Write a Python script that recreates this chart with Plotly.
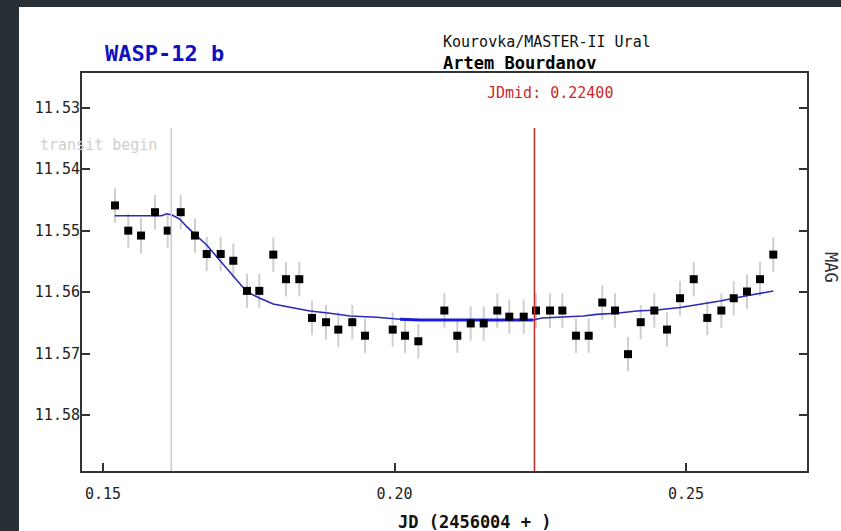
import plotly.graph_objects as go

# Observed photometry (JD offset from 2456004, magnitude, 1-sigma error)
jd = [0.15206, 0.15434, 0.15652, 0.15892, 0.16110, 0.16333, 0.16578, 0.16779,
      0.17019, 0.17235, 0.17470, 0.17681, 0.17921, 0.18139, 0.18367, 0.18585,
      0.18825, 0.19036, 0.19276, 0.19494, 0.19969, 0.20180, 0.20409, 0.20855,
      0.21077, 0.21307, 0.21530, 0.21763, 0.21969, 0.22216, 0.22427, 0.22667,
      0.22879, 0.23113, 0.23331, 0.23564, 0.23782, 0.24005, 0.24223, 0.24456,
      0.24674, 0.24897, 0.25132, 0.25365, 0.25606, 0.25818, 0.26046, 0.26269,
      0.26497]
mag = [11.5459, 11.5500, 11.5508, 11.5470, 11.5500, 11.5470, 11.5508, 11.5538,
       11.5538, 11.5549, 11.5598, 11.5598, 11.5539, 11.5579, 11.5579, 11.5642,
       11.5649, 11.5661, 11.5649, 11.5671, 11.5661, 11.5671, 11.5680, 11.5630,
       11.5671, 11.5651, 11.5651, 11.5630, 11.5640, 11.5640, 11.5630, 11.5630,
       11.5630, 11.5671, 11.5671, 11.5617, 11.5630, 11.5701, 11.5649, 11.5630,
       11.5661, 11.5610, 11.5579, 11.5642, 11.5630, 11.5610, 11.5599, 11.5579,
       11.5539]
mag_err = [0.0028, 0.0028, 0.0029, 0.0028, 0.0028, 0.0028, 0.0028, 0.0028,
           0.0028, 0.0028, 0.0028, 0.0028, 0.0028, 0.0028, 0.0028, 0.0028,
           0.0028, 0.0028, 0.0028, 0.0028, 0.0028, 0.0028, 0.0028, 0.0028,
           0.0028, 0.0028, 0.0028, 0.0028, 0.0028, 0.0028, 0.0028, 0.0028,
           0.0028, 0.0028, 0.0028, 0.0028, 0.0028, 0.0028, 0.0028, 0.0028,
           0.0028, 0.0028, 0.0028, 0.0028, 0.0028, 0.0028, 0.0028, 0.0028,
           0.0028]

# Fitted transit model
model_jd = [0.15201, 0.16007, 0.16093, 0.16184, 0.16321, 0.16436, 0.16578,
            0.16779, 0.16950, 0.17122, 0.17293, 0.17465, 0.17693, 0.17921,
            0.18208, 0.18551, 0.18894, 0.19237, 0.19695, 0.20094, 0.20437,
            0.22376, 0.22530, 0.23238, 0.23468, 0.23811, 0.24154, 0.24497,
            0.24897, 0.25583, 0.26041, 0.26497]
model_mag = [11.54757, 11.54757, 11.54725, 11.54746, 11.54816, 11.54936,
             11.55060, 11.55234, 11.55424, 11.55613, 11.55803, 11.55994,
             11.56101, 11.56194, 11.56248, 11.56308, 11.56345, 11.56389,
             11.56410, 11.56443, 11.56454, 11.56454, 11.56422, 11.56389,
             11.56362, 11.56345, 11.56308, 11.56292, 11.56251, 11.56145,
             11.56059, 11.55982]

# Mid-transit and transit start times
jd_mid = 0.224
jd_begin = 0.1617

x_ticks = [0.15, 0.20, 0.25]
x_tick_text = ["0.15", "0.20", "0.25"]
y_ticks = [11.53, 11.54, 11.55, 11.56, 11.57, 11.58]
y_tick_text = ["11.53", "11.54", "11.55", "11.56", "11.57", "11.58"]

W, H = 841, 531
L, R, T, B = 82, 807, 73, 471
MONO = "DejaVu Sans Mono"


def px(xp):
    return (xp - L) / (R - L)


def py(yp):
    return (B - yp) / (B - T)


fig = go.Figure()

# error bars underneath everything else
fig.add_trace(go.Scatter(
    x=jd, y=mag, mode="markers",
    marker=dict(size=1, color="rgba(0,0,0,0)"),
    error_y=dict(type="data", array=mag_err, color="#cfcfcf",
                 thickness=2, width=0),
    hoverinfo="skip", showlegend=False))

# model curve, with the flat bottom drawn heavier
fig.add_trace(go.Scatter(
    x=model_jd, y=model_mag, mode="lines",
    line=dict(color="#2a2ab8", width=1.6), showlegend=False))
flat = [i for i, v in enumerate(model_jd) if 0.2009 <= v <= 0.2238]
fig.add_trace(go.Scatter(
    x=[model_jd[i] for i in flat], y=[model_mag[i] for i in flat],
    mode="lines", line=dict(color="#1c1cd6", width=3), showlegend=False))

# data points
fig.add_trace(go.Scatter(
    x=jd, y=mag, mode="markers",
    marker=dict(symbol="square", size=8, color="#000000"),
    showlegend=False))

shapes = [
    # white page panel
    dict(type="rect", xref="paper", yref="paper", layer="below",
         x0=px(19), x1=px(W + 5), y0=py(H + 5), y1=py(7),
         fillcolor="#ffffff", line=dict(width=0)),
    # transit begin marker
    dict(type="line", xref="x", yref="paper", x0=jd_begin, x1=jd_begin,
         y0=0, y1=py(128), line=dict(color="#cccccc", width=1.5)),
    # mid-transit marker
    dict(type="line", xref="x", yref="paper", x0=jd_mid, x1=jd_mid,
         y0=0, y1=py(128), line=dict(color="#cc2a2a", width=1.5)),
]

annotations = [
    dict(text="<b>WASP-12 b</b>", x=px(103), y=py(53), xanchor="left",
         yanchor="middle", font=dict(family=MONO, size=22, color="#1010c0")),
    dict(text="Kourovka/MASTER-II Ural", x=px(441), y=py(42), xanchor="left",
         yanchor="middle", font=dict(family=MONO, size=15, color="#111111")),
    dict(text="<b>Artem Bourdanov</b>", x=px(441), y=py(63), xanchor="left",
         yanchor="middle", font=dict(family=MONO, size=17, color="#000000")),
    dict(text="JDmid: %.5f" % jd_mid, x=px(485), y=py(93), xanchor="left",
         yanchor="middle", font=dict(family=MONO, size=15, color="#cc2a2a")),
    dict(text="transit begin", x=px(159), y=py(145), xanchor="right",
         yanchor="middle", font=dict(family=MONO, size=15, color="#cfcfcf")),
    dict(text="MAG", x=px(831), y=py(267), xanchor="center",
         yanchor="middle", textangle=90,
         font=dict(family=MONO, size=17, color="#2e2e3a")),
    dict(text="<b>JD (2456004 + )</b>", x=px(475), y=py(522),
         xanchor="center", yanchor="middle",
         font=dict(family=MONO, size=17, color="#111111")),
]
for a in annotations:
    a.update(xref="paper", yref="paper", showarrow=False)

fig.update_layout(
    width=W, height=H,
    margin=dict(l=L, r=W - R, t=T, b=H - B, pad=0),
    paper_bgcolor="#283036",
    plot_bgcolor="#ffffff",
    shapes=shapes,
    annotations=annotations,
    showlegend=False,
    xaxis=dict(range=[0.1464, 0.27075], tickvals=x_ticks,
               ticktext=x_tick_text, ticks="inside", ticklen=8,
               tickwidth=2, tickcolor="#333333", showline=True,
               linecolor="#333333", linewidth=2, mirror=True,
               showgrid=False, zeroline=False, ticklabelstandoff=8,
               tickfont=dict(family=MONO, size=15, color="#222222")),
    yaxis=dict(range=[11.58911, 11.52435], tickvals=y_ticks,
               ticktext=y_tick_text, ticks="inside", ticklen=8,
               tickwidth=2, tickcolor="#333333", showline=True,
               linecolor="#333333", linewidth=2, mirror="allticks",
               showgrid=False, zeroline=False, ticklabelstandoff=-3,
               tickfont=dict(family=MONO, size=15, color="#222222")),
)

fig.write_html("out.html")
